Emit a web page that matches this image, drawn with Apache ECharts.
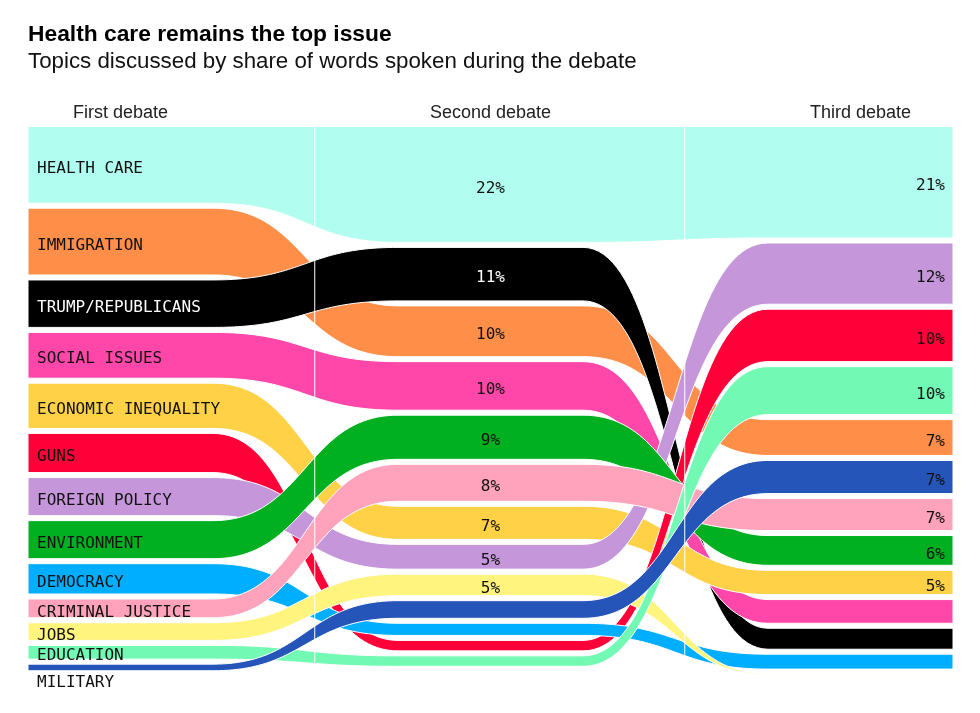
<!DOCTYPE html>
<html><head><meta charset="utf-8">
<script src="https://cdn.jsdelivr.net/npm/echarts@6/dist/echarts.min.js"></script>
<style>html,body{margin:0;padding:0;background:#fff}#c{width:980px;height:713px}</style>
</head><body><div id="c"></div>
<script>
// ---- data ----
const topics = ['HEALTH CARE','IMMIGRATION','TRUMP/REPUBLICANS','SOCIAL ISSUES','ECONOMIC INEQUALITY','GUNS','FOREIGN POLICY','ENVIRONMENT','DEMOCRACY','CRIMINAL JUSTICE','JOBS','EDUCATION','MILITARY'];
const debates = ['First debate','Second debate','Third debate'];
const debate1 = [14.8,13.0,9.5,9.2,9.1,8.0,7.8,7.8,6.4,4.3,4.1,3.4,2.1];
const debate2 = [21.9,10.1,10.6,9.7,6.9,2.8,5.4,8.9,3.1,7.6,4.8,2.8,4.1];
const debate3 = [21.1,7.4,4.7,5.2,5.3,10.4,12.0,6.3,3.6,6.7,0.9,9.6,6.9];
const colors = ['#b1fdef','#fe8e48','#000000','#ff47aa','#ffd147','#ff0038','#c597da','#00b020','#00aeff','#ffa2bc','#fff47d','#72fab4','#2655ba'];
const headerPos = [0.5, 2.5, 4.5];
const dividers = [[1.55, 97.3], [3.55, 95.8]];
const labelTop = 9;

// ---- layout (stack each column by descending share) ----
const cols = [debate1, debate2, debate3];
const stacks = cols.map(vals => {
  const order = vals.map((v, i) => i).sort((a, b) => vals[b] - vals[a] || a - b);
  const t = [], rank = [];
  let acc = 0;
  order.forEach((i, r) => { t[i] = acc; rank[i] = r; acc += vals[i]; });
  return { t, rank };
});
const GAP = 4;

function bandItem(params, api) {
  const i = params.dataIndex;
  const cy = [0, 1, 2].map(c => {
    const top = api.coord([0, stacks[c].t[i]])[1];
    const bot = api.coord([0, stacks[c].t[i] + cols[c][i]])[1] - GAP;
    return [top + 0.5, Math.max(bot - 0.5, top + 1.2)];
  });
  const xs = [0, 1, 2, 3, 4, 5].map(x => api.coord([x, 0])[0]);
  function edge(k) {
    const arr = [];
    for (let c = 0; c < 3; c++) {
      const y = cy[c][k];
      arr.push([xs[2 * c], y], [xs[2 * c + 1], y]);
      if (c < 2) {
        const x0 = xs[2 * c + 1], x1 = xs[2 * c + 2], y1 = cy[c + 1][k], xm = (x0 + x1) / 2;
        for (let n = 1; n < 50; n++) {
          const t = n / 50, m = 1 - t;
          const x = m * m * m * x0 + 3 * m * m * t * xm + 3 * m * t * t * xm + t * t * t * x1;
          const yy = (m * m * m + 3 * m * m * t) * y + (3 * m * t * t + t * t * t) * y1;
          arr.push([x, yy]);
        }
      }
    }
    return arr;
  }
  const pts = edge(0).concat(edge(1).reverse());
  return { type: 'polygon', shape: { points: pts }, style: { fill: colors[i], stroke: '#ffffff', lineWidth: 1 } };
}

const MONO = '16px "DejaVu Sans Mono", monospace';
const TXT_DY = 2;
function txt(text, x, y, align, fill) {
  return { type: 'text', style: { text, x, y: y + TXT_DY, font: MONO, fill, textAlign: align, textVerticalAlign: 'middle', align, verticalAlign: 'middle' } };
}
function labelItem(params, api) {
  const i = params.dataIndex;
  const fill = colors[i] === '#000000' ? '#ffffff' : '#111111';
  const children = [];
  // first debate: topic name
  const t0 = stacks[0].t[i], v0 = debate1[i];
  const yTop = api.coord([0, t0])[1], yBot = api.coord([0, t0 + v0])[1];
  const x0 = api.coord([0, 0])[0] + 9;
  if (yBot - yTop < 14) children.push(txt(topics[i], x0, yBot + 6, 'left', '#111111'));
  else children.push(txt(topics[i], x0, (yTop + yBot) / 2, 'left', fill));
  // second & third debate: share labels for the top items
  [[1, 2.5, 'center', 0], [2, 5, 'right', -8]].forEach(([c, xv, al, dx]) => {
    if (stacks[c].rank[i] < labelTop) {
      const yc = api.coord([0, stacks[c].t[i] + cols[c][i] / 2])[1];
      children.push(txt(Math.round(cols[c][i]) + '%', api.coord([xv, 0])[0] + dx, yc, al, fill));
    }
  });
  return { type: 'group', children };
}
function dividerItem(params, api) {
  const d = dividers[params.dataIndex];
  const p0 = api.coord([d[0], 0]), p1 = api.coord([d[0], d[1]]);
  return { type: 'line', shape: { x1: p0[0], y1: p0[1], x2: p1[0], y2: p1[1] }, style: { stroke: '#ffffff', lineWidth: 1 } };
}

const chart = echarts.init(document.getElementById('c'), null, { renderer: 'canvas' });
chart.setOption({
  animation: false,
  backgroundColor: '#ffffff',
  title: [
    { text: 'Health care remains the top issue', left: 28, top: 23.5, padding: 0, textStyle: { fontFamily: 'Liberation Sans', fontWeight: 'bold', fontSize: 22.8, color: '#000' } },
    { text: 'Topics discussed by share of words spoken during the debate', left: 28, top: 50.5, padding: 0, textStyle: { fontFamily: 'Liberation Sans', fontWeight: 'normal', fontSize: 22.3, color: '#111' } }
  ],
  grid: { left: 28, right: 27, top: 126, bottom: 35 },
  xAxis: [
    { type: 'value', min: 0, max: 5, show: false },
    { type: 'value', min: 0, max: 5, interval: 0.5, position: 'top',
      axisLine: { show: false }, axisTick: { show: false }, splitLine: { show: false },
      axisLabel: { margin: 4, fontFamily: 'Liberation Sans', fontSize: 18, color: '#222',
        formatter: v => { const k = headerPos.indexOf(v); return k >= 0 ? debates[k] : ''; } } }
  ],
  yAxis: { type: 'value', min: 0, max: 100, inverse: true, show: false },
  series: [
    { type: 'custom', xAxisIndex: 0, renderItem: bandItem, data: topics.map(n => ({ name: n, value: [0, 0] })), z: 2, silent: true },
    { type: 'custom', xAxisIndex: 0, renderItem: dividerItem, data: dividers.map(d => d), z: 3, silent: true },
    { type: 'custom', xAxisIndex: 0, renderItem: labelItem, data: topics.map(n => ({ name: n, value: [0, 0] })), z: 4, silent: true }
  ]
});
</script></body></html>
